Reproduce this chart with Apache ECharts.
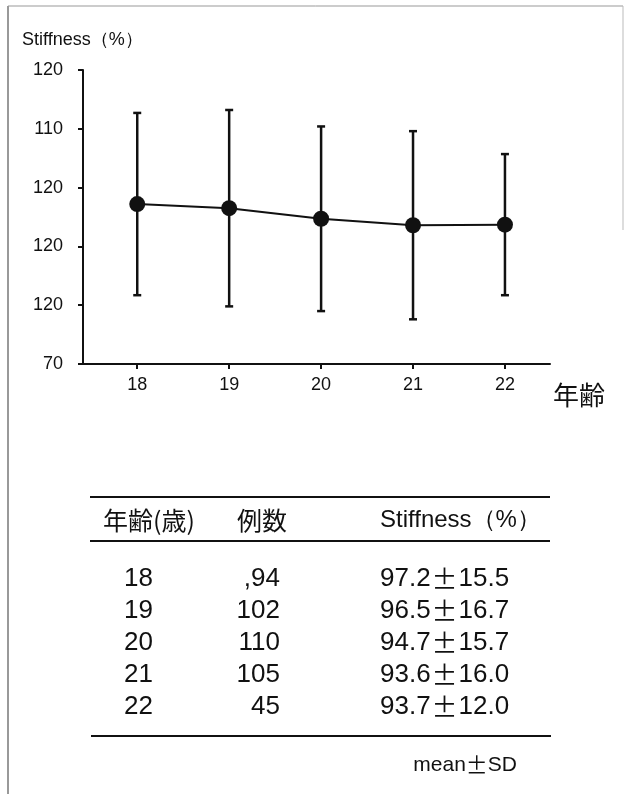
<!DOCTYPE html>
<html>
<head>
<meta charset="utf-8">
<script src="https://cdn.jsdelivr.net/npm/echarts@6/dist/echarts.min.js"></script>
<style>
html,body{margin:0;padding:0;background:#fff;}
#c{width:625px;height:794px;}
</style>
</head>
<body>
<div id="c"></div>
<script>
// ---- data ----
var ages = [18, 19, 20, 21, 22];
var counts = [',94', '102', '110', '105', '45'];
var means = [97.2, 96.5, 94.7, 93.6, 93.7];
var sds = [15.5, 16.7, 15.7, 16.0, 12.0];
var yTickValues = [70, 80, 90, 100, 110, 120];
var yTickLabels = ['70', '120', '120', '120', '110', '120'];
var yAxisTitle = 'Stiffness（%）';
var xAxisTitle = '年齢';
var tableHeaders = ['年齢(歳)', '例数', 'Stiffness（%）'];
var tableNote = ['mean', 'SD'];

var lat = 'Liberation Sans, Arial, sans-serif';
var jp = 'Noto Sans CJK JP, sans-serif';
var ink = '#111';

var chart = echarts.init(document.getElementById('c'));

var meanData = ages.map(function (a, i) { return [a, means[i]]; });
var errData = ages.map(function (a, i) { return [a, means[i] - sds[i], means[i] + sds[i]]; });

function errRender(params, api) {
  var x = api.value(0);
  var lo = api.coord([x, api.value(1)]);
  var hi = api.coord([x, api.value(2)]);
  var w = 4;
  var st = { stroke: ink, lineWidth: 2.5 };
  return {
    type: 'group',
    children: [
      { type: 'line', shape: { x1: lo[0], y1: lo[1], x2: hi[0], y2: hi[1] }, style: st },
      { type: 'line', shape: { x1: lo[0] - w, y1: lo[1], x2: lo[0] + w, y2: lo[1] }, style: st },
      { type: 'line', shape: { x1: hi[0] - w, y1: hi[1], x2: hi[0] + w, y2: hi[1] }, style: st }
    ]
  };
}

var graphics = [];
// frame
graphics.push({ type: 'line', shape: { x1: 8, y1: 6, x2: 8, y2: 794 }, style: { stroke: '#777', lineWidth: 1.5 } });
graphics.push({ type: 'line', shape: { x1: 8, y1: 6, x2: 623, y2: 6 }, style: { stroke: '#999', lineWidth: 1 } });
graphics.push({ type: 'line', shape: { x1: 623, y1: 6, x2: 623, y2: 230 }, style: { stroke: '#bbb', lineWidth: 1 } });
// axis titles
graphics.push({ type: 'text', x: 22, y: 40, style: { text: yAxisTitle, font: '18px ' + lat, fill: ink, textVerticalAlign: 'middle' } });
graphics.push({ type: 'text', x: 553, y: 395, style: { text: xAxisTitle, font: '26px ' + jp, fill: ink, textVerticalAlign: 'middle' } });
// table rules
graphics.push({ type: 'line', shape: { x1: 90, y1: 497, x2: 550, y2: 497 }, style: { stroke: ink, lineWidth: 2 } });
graphics.push({ type: 'line', shape: { x1: 90, y1: 541, x2: 550, y2: 541 }, style: { stroke: ink, lineWidth: 2 } });
graphics.push({ type: 'line', shape: { x1: 91, y1: 736, x2: 551, y2: 736 }, style: { stroke: ink, lineWidth: 2 } });
// table header
graphics.push({ type: 'text', x: 103, y: 520, style: { text: tableHeaders[0], font: '25px ' + jp, fill: ink, textVerticalAlign: 'middle' } });
graphics.push({ type: 'text', x: 237, y: 520, style: { text: tableHeaders[1], font: '25px ' + jp, fill: ink, textVerticalAlign: 'middle' } });
graphics.push({ type: 'text', x: 380, y: 520, style: { text: tableHeaders[2], font: '24px ' + lat, fill: ink, textVerticalAlign: 'middle' } });
// table rows
ages.forEach(function (a, i) {
  var y = 579 + i * 32;
  graphics.push({ type: 'text', x: 153, y: y, style: { text: String(a), font: '26px ' + lat, fill: ink, textAlign: 'right', textVerticalAlign: 'middle' } });
  graphics.push({ type: 'text', x: 280, y: y, style: { text: counts[i], font: '26px ' + lat, fill: ink, textAlign: 'right', textVerticalAlign: 'middle' } });
  graphics.push({ type: 'text', x: 380, y: y, style: {
    text: means[i].toFixed(1) + '{pm|±}' + sds[i].toFixed(1),
    font: '26px ' + lat, fill: ink, textVerticalAlign: 'middle',
    rich: { pm: { fontFamily: jp, fontSize: 26, fill: ink, padding: [0, 1, 0, 1] } }
  } });
});
graphics.push({ type: 'text', x: 517, y: 765, style: {
  text: tableNote[0] + '{pm|±}' + tableNote[1], font: '21px ' + lat, fill: ink, textAlign: 'right', textVerticalAlign: 'middle',
  rich: { pm: { fontFamily: jp, fontSize: 22, fill: ink } }
} });

chart.setOption({
  backgroundColor: '#fff',
  animation: false,
  grid: { left: 83, right: 75, top: 70, bottom: 430, outerBoundsMode: 'none' },
  xAxis: {
    type: 'value', min: 17.41, max: 22.49,
    splitLine: { show: false },
    axisLine: { show: true, onZero: false, lineStyle: { color: ink, width: 2 } },
    axisTick: { show: true, customValues: ages, length: 5, lineStyle: { color: ink, width: 2 } },
    axisLabel: { customValues: ages, color: ink, fontSize: 18, fontFamily: lat, margin: 12 }
  },
  yAxis: {
    type: 'value', min: 70, max: 120, interval: 10,
    splitLine: { show: false },
    axisLine: { show: true, lineStyle: { color: ink, width: 2 } },
    axisTick: { show: true, length: 5, lineStyle: { color: ink, width: 2 } },
    axisLabel: {
      color: ink, fontSize: 18, fontFamily: lat, margin: 20,
      formatter: function (v) { var k = yTickValues.indexOf(v); return k >= 0 ? yTickLabels[k] : ''; }
    }
  },
  series: [
    { type: 'custom', renderItem: errRender, data: errData, encode: { x: 0, y: [1, 2] }, z: 2 },
    {
      type: 'line', data: meanData, symbol: 'circle', symbolSize: 16,
      lineStyle: { color: ink, width: 2 }, itemStyle: { color: ink }, z: 3
    }
  ],
  graphic: graphics
});
</script>
</body>
</html>
